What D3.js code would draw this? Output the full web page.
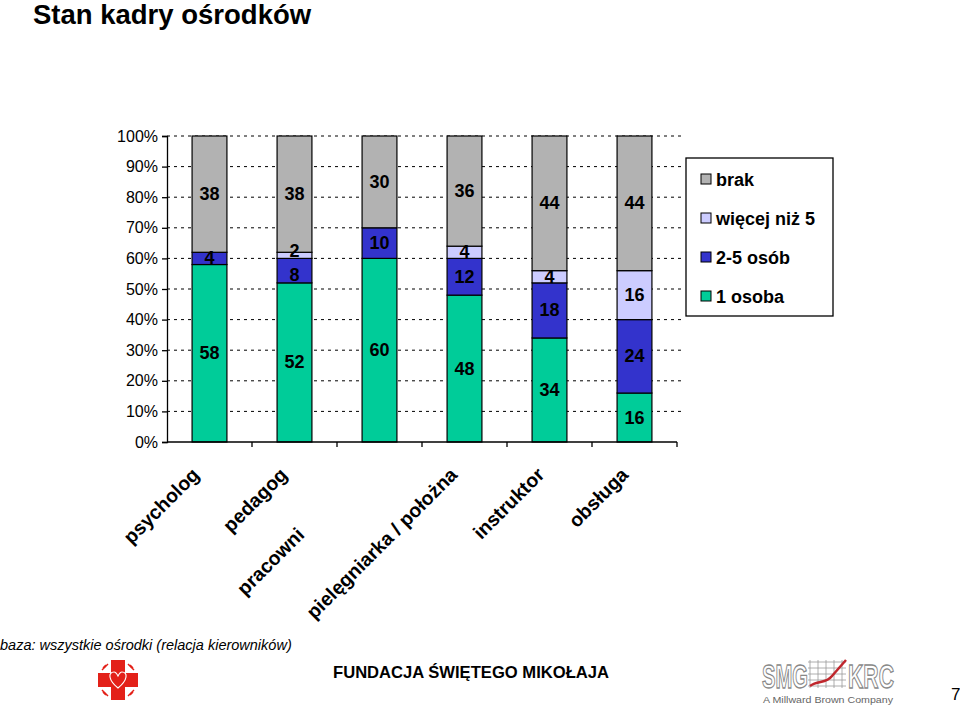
<!DOCTYPE html>
<html><head><meta charset="utf-8">
<script src="https://cdn.jsdelivr.net/npm/d3@7"></script>
<style>
body{margin:0;background:#fff;}
svg{display:block;font-family:"Liberation Sans",Arial,sans-serif;}
</style></head>
<body>
<svg id="chart" width="960" height="705"></svg>
<script>
const categories = ["psycholog","pedagog","pracowni","pielęgniarka / położna","instruktor","obsługa"];
const seriesNames = ["1 osoba","2-5 osób","więcej niż 5","brak"];
const jedna = [58,52,60,48,34,16];
const dwaPiec = [4,8,10,12,18,24];
const wiecej = [0,2,0,4,4,16];
const brak = [38,38,30,36,44,44];
const colors = ["#00cc99","#3333cc","#ccccff","#b2b2b2"];
const yTicks = [0,10,20,30,40,50,60,70,80,90,100];

(function(){
const svg = d3.select("#chart");
const pL = 167, pR = 677, pT = 136, pB = 442;

const x = d3.scaleBand().domain(categories).range([pL,pR]).paddingInner(0.59).paddingOuter(0.295);
const y = d3.scaleLinear().domain([0,100]).range([pB,pT]);

// title
svg.append("text").attr("x",33).attr("y",24).attr("font-size",27.5).attr("font-weight","bold").text("Stan kadry ośrodków");

// gridlines
svg.append("g").selectAll("line").data(yTicks.slice(1)).join("line")
  .attr("x1",pL).attr("x2",681).attr("y1",d=>y(d)).attr("y2",d=>y(d))
  .attr("stroke","#000").attr("stroke-width",1).attr("stroke-dasharray","3,4");

// stacked data
const rows = categories.map((c,i)=>({cat:c,"1 osoba":jedna[i],"2-5 osób":dwaPiec[i],"więcej niż 5":wiecej[i],"brak":brak[i]}));
const stack = d3.stack().keys(seriesNames)(rows);

const g = svg.append("g");
stack.forEach((layer,li)=>{
  g.selectAll(null).data(layer.filter(d=>d[1]-d[0]>0)).join("rect")
    .attr("x",d=>x(d.data.cat)).attr("width",x.bandwidth())
    .attr("y",d=>y(d[1])).attr("height",d=>y(d[0])-y(d[1]))
    .attr("fill",colors[li]).attr("stroke","#000").attr("stroke-width",1.2);
});

// labels with simple collision avoidance per bar
const labels = [];
categories.forEach((c,ci)=>{
  const list = [];
  stack.forEach(layer=>{
    const d = layer[ci];
    if(d[1]-d[0]>0) list.push({cat:c, v:d[1]-d[0], cy:y((d[0]+d[1])/2)});
  });
  for(let k=1;k<list.length;k++){
    const gap = list[k-1].cy - list[k].cy;
    if(gap<22){ const push=(24-gap)/2; list[k-1].cy+=push; list[k].cy-=push; }
  }
  labels.push(...list);
});
g.selectAll("text.lbl").data(labels).join("text").attr("class","lbl")
  .attr("x",d=>x(d.cat)+x.bandwidth()/2)
  .attr("y",d=>d.cy+6)
  .attr("text-anchor","middle").attr("font-size",18).attr("font-weight","bold")
  .text(d=>d.v);

// y axis
const yAxis = d3.axisLeft(y).tickValues(yTicks).tickFormat(d=>d+"%").tickSize(5).tickPadding(4);
const ya = svg.append("g").attr("transform",`translate(${pL},0)`).call(yAxis);
ya.select(".domain").attr("stroke","#000").attr("stroke-width",1.3);
ya.selectAll(".tick line").attr("stroke","#000").attr("stroke-width",1.3);
ya.selectAll("text").attr("font-size",16).attr("fill","#000").attr("font-family","Liberation Sans, Arial, sans-serif");

// x axis line + ticks at band boundaries
const step = x.step();
const bounds = d3.range(categories.length+1).map(i=>pL+i*step);
svg.append("line").attr("x1",pL).attr("x2",pR).attr("y1",pB).attr("y2",pB).attr("stroke","#000").attr("stroke-width",1.3);
svg.append("g").selectAll("line").data(bounds.slice(1)).join("line")
  .attr("x1",d=>d).attr("x2",d=>d).attr("y1",pB).attr("y2",pB+5).attr("stroke","#000").attr("stroke-width",1.3);

// x labels rotated
const labelDy = [0,0,60,0,0,0];
const labelDx = [-9,-6,-74,-6,-4,-5];
svg.append("g").selectAll("text").data(categories).join("text")
  .attr("transform",(d,i)=>`translate(${x(d)+x.bandwidth()/2+labelDx[i]},${476+labelDy[i]}) rotate(-45)`)
  .attr("text-anchor","end").attr("font-weight","bold")
  .attr("font-size",19.5)
  .text(d=>d);

// legend
const lg = svg.append("g");
lg.append("rect").attr("x",686).attr("y",158).attr("width",147).attr("height",158).attr("fill","#fff").attr("stroke","#000").attr("stroke-width",1.3);
const legendOrder = [3,2,1,0];
legendOrder.forEach((si,k)=>{
  const yy = 180 + k*39;
  lg.append("rect").attr("x",701).attr("y",yy-6).attr("width",10).attr("height",10).attr("fill",colors[si]).attr("stroke","#000").attr("stroke-width",1);
  lg.append("text").attr("x",716).attr("y",yy+6).attr("font-size",18).attr("font-weight","bold").text(seriesNames[si]);
});

// footer
svg.append("text").attr("x",0).attr("y",650).attr("font-size",14.5).attr("font-style","italic").text("baza: wszystkie ośrodki (relacja kierowników)");
svg.append("text").attr("x",471).attr("y",678).attr("text-anchor","middle").attr("font-size",16.6).attr("font-weight","bold").text("FUNDACJA ŚWIĘTEGO MIKOŁAJA");
svg.append("text").attr("x",951).attr("y",700).attr("font-size",17).text("7");

// red cross logo
const lc = svg.append("g").attr("transform","translate(118,680)");
lc.append("path").attr("d","M-7,-20 H7 V-7 H20 V7 H7 V20 H-7 V7 H-20 V-7 H-7 Z").attr("fill","#e32119");
[[-1,-1],[1,-1],[1,1],[-1,1]].forEach(([sx,sy])=>{
  for(let k=0;k<3;k++){
    lc.append("line").attr("x1",sx*(10+k*2.5)).attr("y1",sy*(16-k*2)).attr("x2",sx*(16-k*2)).attr("y2",sy*(10+k*2.5)).attr("stroke","#e32119").attr("stroke-width",1.5);
  }
});
lc.append("path").attr("d","M0,8 C-10,0 -10,-8 -4,-8 C-2,-8 -1,-6 0,-4 C1,-6 2,-8 4,-8 C10,-8 10,0 0,8 Z").attr("fill","none").attr("stroke","#fff").attr("stroke-width",1.2);

// SMG KRC logo
const sl = svg.append("g");
sl.append("text").attr("transform","translate(762,688) scale(1,1.3)").attr("font-size",25).attr("font-weight","bold").attr("fill","#fff").attr("stroke","#888").attr("stroke-width",1).attr("textLength",46).attr("lengthAdjust","spacingAndGlyphs").text("SMG");
sl.append("text").attr("transform","translate(848,688) scale(1,1.3)").attr("font-size",25).attr("font-weight","bold").attr("fill","#fff").attr("stroke","#888").attr("stroke-width",1).attr("textLength",46).attr("lengthAdjust","spacingAndGlyphs").text("KRC");
for(let k=0;k<5;k++){
  sl.append("line").attr("x1",810+k*8).attr("x2",810+k*8).attr("y1",660).attr("y2",688).attr("stroke","#999").attr("stroke-width",0.8);
  sl.append("line").attr("x1",808).attr("x2",846).attr("y1",662+k*6).attr("y2",662+k*6).attr("stroke","#999").attr("stroke-width",0.8);
}
sl.append("path").attr("d","M810,686 C818,680 826,684 832,676 L846,660").attr("fill","none").attr("stroke","#c0272d").attr("stroke-width",2.5);
sl.append("text").attr("x",828).attr("y",703).attr("text-anchor","middle").attr("font-size",9).attr("fill","#666").attr("textLength",130).attr("lengthAdjust","spacingAndGlyphs").text("A Millward Brown Company");
})();
</script>
</body></html>
